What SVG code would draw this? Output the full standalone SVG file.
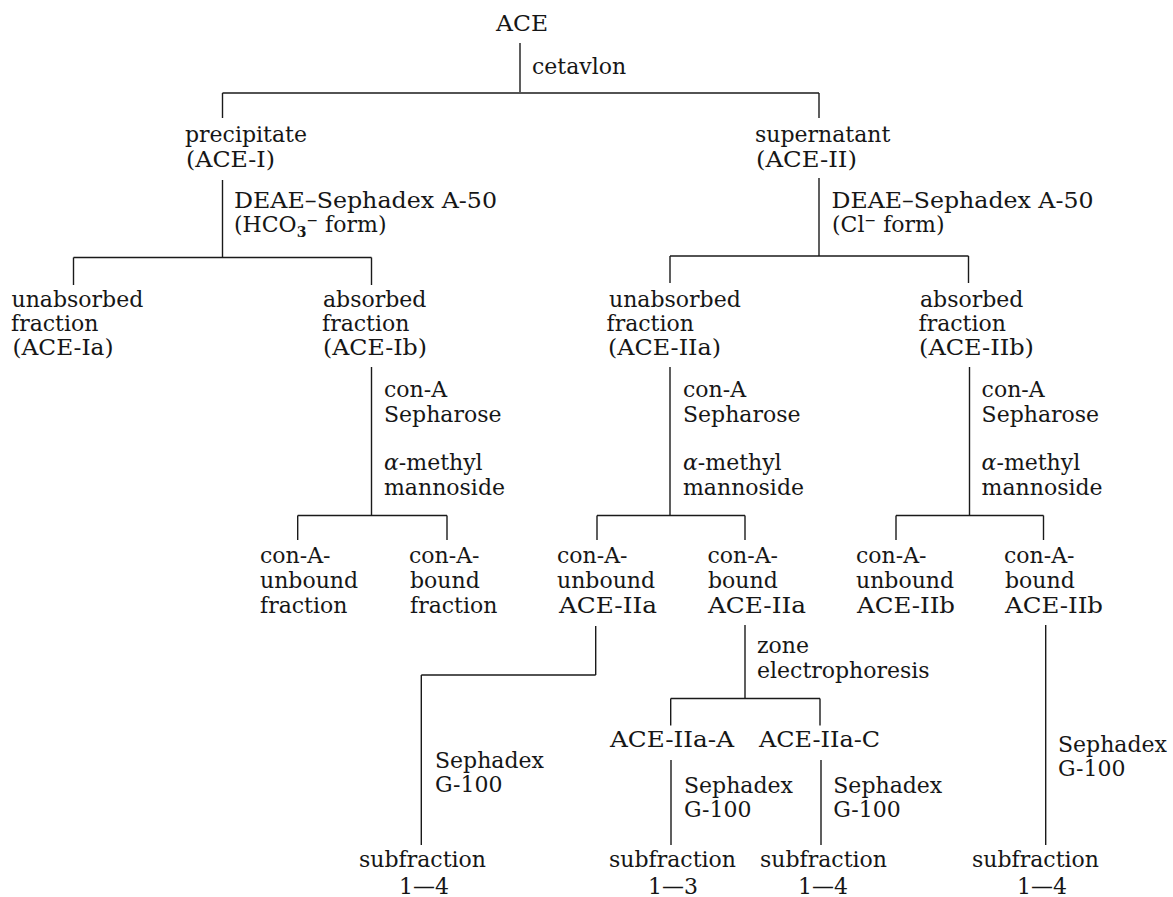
<svg xmlns="http://www.w3.org/2000/svg" width="1173" height="897" viewBox="0 0 1173 897">
<style>
text{font-family:"DejaVu Serif","Liberation Serif",serif;font-size:22px;fill:#161616}
.c line{stroke:#1a1a1a;stroke-width:1.4;fill:none}
.sm{font-size:14px}
</style>
<rect width="1173" height="897" fill="#fff"/>
<g id="connectors" class="c">
<line x1="520" y1="43" x2="520" y2="92"/>
<line x1="222.5" y1="93" x2="819" y2="93"/>
<line x1="222.5" y1="93" x2="222.5" y2="118"/>
<line x1="819" y1="93" x2="819" y2="118"/>
<line x1="222.5" y1="180" x2="222.5" y2="257"/>
<line x1="819" y1="178" x2="819" y2="256"/>
<line x1="73.5" y1="257.5" x2="371.5" y2="257.5"/>
<line x1="73.5" y1="257.5" x2="73.5" y2="285"/>
<line x1="371.5" y1="257.5" x2="371.5" y2="285"/>
<line x1="670" y1="256" x2="968.5" y2="256"/>
<line x1="670" y1="256" x2="670" y2="283"/>
<line x1="968.5" y1="256" x2="968.5" y2="283"/>
<line x1="371.5" y1="367" x2="371.5" y2="515.5"/>
<line x1="670" y1="367" x2="670" y2="515.5"/>
<line x1="969.5" y1="367" x2="969.5" y2="515.5"/>
<line x1="297.7" y1="515.5" x2="447" y2="515.5"/>
<line x1="297.7" y1="515.5" x2="297.7" y2="540"/>
<line x1="447" y1="515.5" x2="447" y2="540"/>
<line x1="597" y1="515.5" x2="745" y2="515.5"/>
<line x1="597" y1="515.5" x2="597" y2="540"/>
<line x1="745" y1="515.5" x2="745" y2="540"/>
<line x1="896" y1="515.5" x2="1043.5" y2="515.5"/>
<line x1="896" y1="515.5" x2="896" y2="540"/>
<line x1="1043.5" y1="515.5" x2="1043.5" y2="540"/>
<line x1="595.7" y1="626" x2="595.7" y2="675"/>
<line x1="421.3" y1="675" x2="595.7" y2="675"/>
<line x1="421.3" y1="675" x2="421.3" y2="845"/>
<line x1="745" y1="625" x2="745" y2="698.5"/>
<line x1="670.7" y1="698.5" x2="820" y2="698.5"/>
<line x1="670.7" y1="698.5" x2="670.7" y2="725.5"/>
<line x1="820" y1="698.5" x2="820" y2="725.5"/>
<line x1="671" y1="760" x2="671" y2="845"/>
<line x1="821" y1="760" x2="821" y2="845"/>
<line x1="1045.7" y1="625" x2="1045.7" y2="845"/>
</g>
<g id="edge-labels">
<text x="532" y="74">cetavlon</text>
<text x="234" y="208" textLength="263" lengthAdjust="spacingAndGlyphs">DEAE–Sephadex A-50</text>
<text x="234" y="232">(HCO<tspan class="sm" dy="5" font-weight="bold">3</tspan><tspan class="sm" dy="-12">−</tspan><tspan dy="7"> form)</tspan></text>
<text x="831.5" y="208" textLength="262" lengthAdjust="spacingAndGlyphs">DEAE–Sephadex A-50</text>
<text x="832" y="232">(Cl<tspan class="sm" dy="-7">−</tspan><tspan dy="7"> form)</tspan></text>
<text x="384" y="397">con-A</text>
<text x="384" y="421.5">Sepharose</text>
<text x="384" y="470"><tspan font-style="italic">α</tspan>-methyl</text>
<text x="384" y="494.5">mannoside</text>
<text x="683" y="397">con-A</text>
<text x="683" y="421.5">Sepharose</text>
<text x="683" y="470"><tspan font-style="italic">α</tspan>-methyl</text>
<text x="683" y="494.5">mannoside</text>
<text x="981.6" y="397">con-A</text>
<text x="981.6" y="421.5">Sepharose</text>
<text x="981.6" y="470"><tspan font-style="italic">α</tspan>-methyl</text>
<text x="981.6" y="494.5">mannoside</text>
<text x="757" y="653">zone</text>
<text x="757" y="678">electrophoresis</text>
<text x="435" y="768">Sephadex</text>
<text x="435" y="792">G-100</text>
<text x="684" y="793">Sephadex</text>
<text x="684" y="817">G-100</text>
<text x="833.3" y="793">Sephadex</text>
<text x="833.3" y="817">G-100</text>
<text x="1058" y="752">Sephadex</text>
<text x="1058" y="776">G-100</text>
</g>
<g id="n-ace"><text x="496" y="31" textLength="52" lengthAdjust="spacingAndGlyphs">ACE</text></g>
<g id="n-ace-i"><text x="185" y="142">precipitate</text><text x="186" y="166.5" textLength="89" lengthAdjust="spacingAndGlyphs">(ACE-I)</text></g>
<g id="n-ace-ii"><text x="755" y="142">supernatant</text><text x="756" y="166.5" textLength="101" lengthAdjust="spacingAndGlyphs">(ACE-II)</text></g>
<g id="n-ace-ia"><text x="11.5" y="306.5">unabsorbed</text><text x="11" y="331">fraction</text><text x="12.5" y="355" textLength="101" lengthAdjust="spacingAndGlyphs">(ACE-Ia)</text></g>
<g id="n-ace-ib"><text x="323" y="306.5">absorbed</text><text x="322" y="331">fraction</text><text x="323" y="355" textLength="104" lengthAdjust="spacingAndGlyphs">(ACE-Ib)</text></g>
<g id="n-ace-iia"><text x="609" y="306.5">unabsorbed</text><text x="606.5" y="331">fraction</text><text x="608" y="355" textLength="113" lengthAdjust="spacingAndGlyphs">(ACE-IIa)</text></g>
<g id="n-ace-iib"><text x="920" y="306.5">absorbed</text><text x="918.5" y="331">fraction</text><text x="919" y="355" textLength="115" lengthAdjust="spacingAndGlyphs">(ACE-IIb)</text></g>
<g id="n-ib-unbound"><text x="260" y="563">con-A-</text><text x="260" y="588">unbound</text><text x="260" y="612.5">fraction</text></g>
<g id="n-ib-bound"><text x="409" y="563">con-A-</text><text x="410" y="588">bound</text><text x="410" y="612.5">fraction</text></g>
<g id="n-iia-unbound"><text x="557" y="563">con-A-</text><text x="557" y="588">unbound</text><text x="559" y="612.5" textLength="98" lengthAdjust="spacingAndGlyphs">ACE-IIa</text></g>
<g id="n-iia-bound"><text x="707.5" y="563">con-A-</text><text x="708" y="588">bound</text><text x="708" y="612.5" textLength="98" lengthAdjust="spacingAndGlyphs">ACE-IIa</text></g>
<g id="n-iib-unbound"><text x="856" y="563">con-A-</text><text x="856" y="588">unbound</text><text x="857" y="612.5" textLength="98" lengthAdjust="spacingAndGlyphs">ACE-IIb</text></g>
<g id="n-iib-bound"><text x="1004" y="563">con-A-</text><text x="1005" y="588">bound</text><text x="1005" y="612.5" textLength="98" lengthAdjust="spacingAndGlyphs">ACE-IIb</text></g>
<g id="n-iia-a"><text x="610" y="746.5" textLength="124" lengthAdjust="spacingAndGlyphs">ACE-IIa-A</text></g>
<g id="n-iia-c"><text x="759" y="746.5" textLength="121" lengthAdjust="spacingAndGlyphs">ACE-IIa-C</text></g>
<g id="n-sub-1"><text x="359" y="866.5">subfraction</text><text x="399" y="894">1—4</text></g>
<g id="n-sub-2"><text x="609" y="866.5">subfraction</text><text x="648" y="894">1—3</text></g>
<g id="n-sub-3"><text x="760" y="866.5">subfraction</text><text x="798" y="894">1—4</text></g>
<g id="n-sub-4"><text x="972" y="866.5">subfraction</text><text x="1017" y="894">1—4</text></g>
</svg>
